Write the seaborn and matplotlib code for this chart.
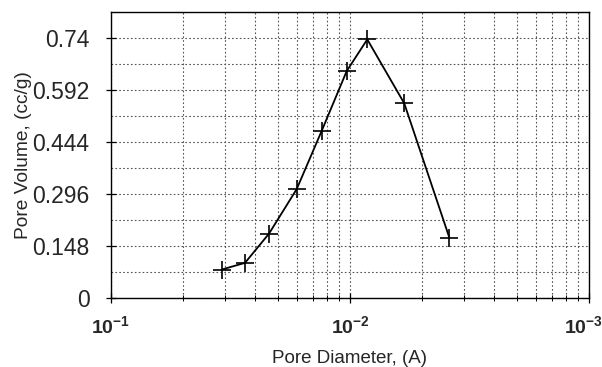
import matplotlib
matplotlib.use("Agg")
import matplotlib.pyplot as plt
import matplotlib.transforms as mtransforms
from matplotlib.ticker import FixedLocator, FixedFormatter, NullFormatter
import pandas as pd
import seaborn as sns

# Pore size distribution
pore_diameter = [0.03441, 0.02750, 0.02183, 0.01671, 0.01313, 0.01032, 0.008468, 0.005929, 0.003841]
pore_volume = [0.081, 0.100, 0.183, 0.310, 0.476, 0.646, 0.736, 0.554, 0.172]

y_ticks = [0, 0.148, 0.296, 0.444, 0.592, 0.74]
y_tick_labels = ["0", "0.148", "0.296", "0.444", "0.592", "0.74"]
y_minor = [0.074, 0.222, 0.370, 0.518, 0.666, 0.814]
x_ticks = [1e-1, 1e-2, 1e-3]
x_tick_labels = [r"$\mathbf{10^{-1}}$", r"$\mathbf{10^{-2}}$", r"$\mathbf{10^{-3}}$"]

sns.set_style("white")
plt.rcParams["font.family"] = ["Liberation Sans", "DejaVu Sans"]
plt.rcParams["mathtext.fontset"] = "custom"
plt.rcParams["mathtext.rm"] = "Liberation Sans"
plt.rcParams["mathtext.bf"] = "Liberation Sans:bold"

fig = plt.figure(figsize=(6.02, 3.67), dpi=100)
ax = fig.add_axes([111 / 602, 1 - 298 / 367, 478 / 602, 286 / 367])

df = pd.DataFrame({"diameter": pore_diameter, "volume": pore_volume})
sns.lineplot(data=df, x="diameter", y="volume", ax=ax, color="black", lw=1.3,
             marker="+", markersize=13, markeredgewidth=1.2,
             markeredgecolor="black", sort=False)

ax.set_xscale("log")
ax.set_xlim(1e-1, 1e-3)
ax.set_ylim(0, 0.814)

# minor divisions laid out as 10^k / m
x_minor = [10.0 ** k / m for k in (-1, -2) for m in range(2, 10)]
ax.xaxis.set_major_locator(FixedLocator(x_ticks))
ax.xaxis.set_major_formatter(FixedFormatter(x_tick_labels))
ax.xaxis.set_minor_locator(FixedLocator(x_minor))
ax.xaxis.set_minor_formatter(NullFormatter())
ax.yaxis.set_major_locator(FixedLocator(y_ticks))
ax.yaxis.set_major_formatter(FixedFormatter(y_tick_labels))
ax.yaxis.set_minor_locator(FixedLocator(y_minor))

grid_kw = dict(color="#555555", linestyle=(0, (1.5, 2)), linewidth=0.8)
ax.grid(True, which="both", axis="both", **grid_kw)
ax.set_axisbelow(True)

ax.tick_params(axis="x", which="major", direction="inout", length=7, width=0.9,
               color="black", labelsize=14, pad=9, bottom=True)
ax.tick_params(axis="x", which="minor", direction="inout", length=5, width=0.7,
               color="black", bottom=True)
ax.tick_params(axis="y", which="major", direction="inout", length=7, width=0.9,
               color="black", labelsize=16.5, pad=12, left=True)
ax.tick_params(axis="y", which="minor", length=0)

for side in ("left", "right", "top", "bottom"):
    ax.spines[side].set_visible(True)
    ax.spines[side].set_color("black")
    ax.spines[side].set_linewidth(1.0)

ax.set_xlabel("Pore Diameter, (A)", fontsize=13.5, labelpad=9)
ax.set_ylabel("Pore Volume, (cc/g)", fontsize=13.8, labelpad=0)

# keep the last decade label inside the figure
fig.canvas.draw()
last = ax.get_xticklabels()[-1]
last.set_transform(last.get_transform() +
                   mtransforms.ScaledTranslation(-6 / 100, 0, fig.dpi_scale_trans))

fig.savefig("out.png", dpi=100, facecolor="white")
